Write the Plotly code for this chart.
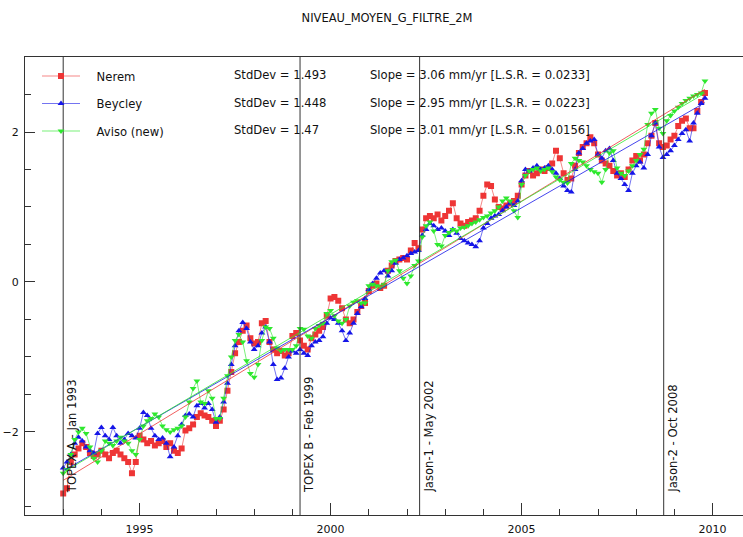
import numpy as np
import plotly.graph_objects as go

# ---------------- data ----------------
years = np.round(np.arange(1993.0, 2009.85, 0.1), 1)

nerem = [
    -2.82, -2.75, -2.40, -2.30, -2.22, -2.15, -2.20, -2.28, -2.32, -2.30,
    -2.25, -2.30, -2.35, -2.28, -2.25, -2.30, -2.35, -2.40, -2.55, -2.40,
    -2.05, -2.10, -2.15, -2.12, -2.18, -2.15, -2.12, -2.20, -2.15, -2.25,
    -2.28, -2.22, -1.98, -1.95, -1.90, -1.80, -1.75, -1.78, -1.80, -1.85,
    -1.92, -1.85, -1.70, -1.45, -1.20, -0.95, -0.80, -0.65, -0.58, -0.75,
    -0.82, -0.80, -0.55, -0.52, -0.80, -0.90, -0.95, -0.92, -0.98, -0.95,
    -0.72, -0.68, -0.78, -0.85, -0.90, -0.75, -0.70, -0.65, -0.60, -0.45,
    -0.22, -0.20, -0.25, -0.35, -0.50, -0.55, -0.50, -0.40, -0.32, -0.28,
    -0.12, -0.05, -0.02, -0.08, -0.05, 0.15, 0.22, 0.28, 0.30, 0.32,
    0.30, 0.42, 0.52, 0.45, 0.70, 0.85, 0.88, 0.85, 0.90, 0.82,
    0.88, 0.95, 1.05, 0.85, 0.78, 0.75, 0.80, 0.82, 0.85, 0.95,
    1.15, 1.30, 1.28, 1.10, 1.00, 0.98, 1.02, 1.05, 1.08, 1.15,
    1.30, 1.42, 1.48, 1.42, 1.45, 1.50, 1.48, 1.52, 1.58, 1.75,
    1.65, 1.45, 1.36, 1.38, 1.55, 1.72, 1.80, 1.85, 1.93, 1.85,
    1.70, 1.62, 1.58, 1.55, 1.48, 1.42, 1.45, 1.40, 1.50, 1.62,
    1.68, 1.62, 1.70, 1.85, 1.95, 2.12, 1.85, 1.80, 1.82, 1.90,
    1.95, 2.08, 2.15, 2.18, 2.05, 2.05, 2.28, 2.40, 2.52,
]

beycley = [
    -2.48, -2.40, -2.30, -2.15, -2.07, -2.12, -2.20, -2.25, -2.28, -2.02,
    -1.94, -2.05, -2.10, -1.94, -2.05, -2.15, -2.10, -2.02, -2.05, -2.08,
    -1.95, -1.74, -1.78, -1.95, -2.05, -2.10, -2.08, -2.15, -2.33, -2.20,
    -2.05, -1.90, -1.78, -1.76, -1.80, -1.65, -1.62, -1.68, -1.62, -1.70,
    -1.87, -1.80, -1.60, -1.35, -1.10, -0.85, -0.65, -0.54, -0.62, -0.80,
    -0.90, -0.85, -0.68, -0.60, -0.80, -1.10, -1.30, -1.28, -1.15, -1.00,
    -0.92, -0.95, -0.90, -0.95, -0.98, -0.85, -0.80, -0.78, -0.73, -0.55,
    -0.48, -0.50, -0.55, -0.65, -0.78, -0.68, -0.55, -0.42, -0.33, -0.22,
    -0.10, -0.02, 0.05, 0.12, 0.15, 0.08, 0.15, 0.25, 0.30, 0.32,
    0.35, 0.38, 0.40, 0.42, 0.62, 0.70, 0.78, 0.75, 0.70, 0.72,
    0.68, 0.62, 0.70, 0.65, 0.58, 0.55, 0.52, 0.50, 0.47, 0.55,
    0.72, 0.78, 0.85, 0.88, 0.90, 0.95, 1.00, 1.05, 1.02, 1.08,
    1.35, 1.50, 1.48, 1.52, 1.55, 1.50, 1.52, 1.55, 1.50, 1.45,
    1.38, 1.28, 1.22, 1.20, 1.50, 1.72, 1.78, 1.85, 1.88, 1.90,
    1.70, 1.65, 1.75, 1.78, 1.62, 1.45, 1.38, 1.30, 1.22, 1.45,
    1.55, 1.60, 1.52, 1.70, 1.95, 2.12, 1.80, 1.66, 1.70, 1.75,
    1.82, 1.90, 1.98, 2.03, 1.88, 2.12, 2.25, 2.38, 2.45,
]

aviso = [
    -2.55, -2.50, -2.30, -2.10, -2.00, -1.95, -2.02, -2.20, -2.35, -2.40,
    -2.25, -2.12, -2.15, -2.18, -2.12, -2.07, -2.12, -2.15, -2.25, -2.30,
    -2.10, -1.92, -1.85, -1.82, -1.76, -1.80, -1.92, -1.97, -2.00, -1.97,
    -1.95, -1.92, -1.80, -1.60, -1.42, -1.32, -1.60, -1.62, -1.45, -1.55,
    -1.82, -1.82, -1.55, -1.25, -1.00, -0.78, -0.70, -0.80, -1.05, -1.22,
    -1.27, -1.10, -0.78, -0.60, -0.62, -0.75, -0.88, -0.92, -0.90, -0.90,
    -0.90, -0.85, -0.62, -0.63, -0.72, -0.75, -0.62, -0.58, -0.55, -0.42,
    -0.38, -0.45, -0.52, -0.55, -0.50, -0.32, -0.27, -0.25, -0.28, -0.28,
    -0.05, -0.03, -0.05, -0.07, -0.04, 0.15, 0.27, 0.29, 0.15, 0.05,
    -0.02, 0.08, 0.22, 0.28, 0.60, 0.75, 0.80, 0.68, 0.50, 0.48,
    0.62, 0.66, 0.70, 0.68, 0.72, 0.73, 0.75, 0.78, 0.80, 0.83,
    0.86, 0.88, 0.92, 0.95, 1.00, 1.08, 1.12, 1.08, 0.95, 0.86,
    1.30, 1.42, 1.48, 1.50, 1.52, 1.48, 1.50, 1.52, 1.47, 1.40,
    1.36, 1.33, 1.32, 1.58, 1.65, 1.62, 1.60, 1.55, 1.50, 1.47,
    1.45, 1.33, 1.50, 1.72, 1.75, 1.52, 1.45, 1.42, 1.48, 1.55,
    1.62, 1.70, 1.77, 2.10, 2.25, 2.30, 2.05, 1.98, 2.15, 2.22,
    2.28, 2.33, 2.38, 2.42, 2.45, 2.48, 2.50, 2.52, 2.68,
]

series_names = ["Nerem", "Beycley", "Aviso (new)"]
series_values = [nerem, beycley, aviso]
std_devs = ["1.493", "1.448", "1.47"]
slopes = ["3.06", "2.95", "3.01"]
lsr_values = ["0.0233", "0.0223", "0.0156"]

mission_years = [1993.0, 1999.2, 2002.33, 2008.72]
mission_labels = ["TOPEX A - Jan 1993", "TOPEX B - Feb 1999",
                  "Jason-1 - May 2002", "Jason-2 - Oct 2008"]

x_ticks = [1995, 2000, 2005, 2010]
y_ticks = [-2, 0, 2]

# ---------------- style ----------------
colors = ["#ee3535", "#1515e8", "#2ee82e"]
line_colors = ["rgba(238,53,53,0.75)", "rgba(21,21,232,0.75)", "rgba(46,232,46,0.8)"]
symbols = ["square", "triangle-up", "triangle-down"]
FONT = "DejaVu Sans"
AX = "#333333"

W, H = 743, 537
ML, MR, MT, MB = 25, 0, 57, 22
PW, PH = W - ML - MR, H - MT - MB
PX_PER_YEAR = 38.2
X_RANGE = [1992.0, 1992.0 + PW / PX_PER_YEAR]
Y_RANGE = [-3.107, 3.0]

fig = go.Figure()

for i, (name, vals) in enumerate(zip(series_names, series_values)):
    fig.add_trace(go.Scatter(
        x=years, y=vals, mode="lines+markers", name="\u2003" + name,
        legendgroup=name,
        line=dict(color=line_colors[i], width=0.8),
        marker=dict(symbol=symbols[i], size=6, color=colors[i], line=dict(width=0)),
        hoverinfo="skip",
    ))

# least-squares trend lines computed from the data
for i, vals in enumerate(series_values):
    coef = np.polyfit(years, vals, 1)
    xs = np.array([years[0], years[-1]])
    fig.add_trace(go.Scatter(
        x=xs, y=np.polyval(coef, xs), mode="lines",
        line=dict(color=colors[i], width=0.8),
        showlegend=False, hoverinfo="skip",
    ))

shapes = []
annotations = []
for yr, lab in zip(mission_years, mission_labels):
    shapes.append(dict(type="line", xref="x", yref="paper", x0=yr, x1=yr, y0=0, y1=1,
                       line=dict(color=AX, width=1)))
    annotations.append(dict(x=yr, y=-2.84, xref="x", yref="y", text=lab, textangle=-90,
                            showarrow=False, xanchor="center", yanchor="bottom", xshift=9,
                            font=dict(family=FONT, size=11.6, color="#111")))

row_px = [75, 103, 130]
for i in range(3):
    yp = (H - MB - row_px[i]) / PH
    annotations.append(dict(x=(232 - ML) / PW, y=yp, xref="paper", yref="paper",
                            text=f"StdDev = {std_devs[i]}", showarrow=False,
                            xanchor="left", yanchor="middle",
                            font=dict(family=FONT, size=11.6, color="#111")))
    annotations.append(dict(x=(368 - ML) / PW, y=yp, xref="paper", yref="paper",
                            text=f"Slope = {slopes[i]} mm/yr [L.S.R. = {lsr_values[i]}]",
                            showarrow=False, xanchor="left", yanchor="middle",
                            font=dict(family=FONT, size=11.6, color="#111")))

fig.update_layout(
    width=W, height=H,
    margin=dict(l=ML, r=MR, t=MT, b=MB, pad=0),
    paper_bgcolor="white", plot_bgcolor="white",
    font=dict(family=FONT, size=11, color="#111"),
    title=dict(text="NIVEAU_MOYEN_G_FILTRE_2M", x=(387 - ML) / PW, xref="paper",
               xanchor="center", y=1 - 18 / H, yref="container", yanchor="middle",
               font=dict(family=FONT, size=11.5, color="#111")),
    showlegend=True,
    legend=dict(x=(37 - ML) / PW, y=(H - MB - 61.5) / PH, xref="paper", yref="paper",
                xanchor="left", yanchor="top", bgcolor="rgba(0,0,0,0)",
                font=dict(family=FONT, size=11.6, color="#111"),
                itemwidth=38, tracegroupgap=8.5, traceorder="grouped"),
    shapes=shapes, annotations=annotations,
    xaxis=dict(range=X_RANGE, showgrid=False, zeroline=False,
               showline=True, linecolor=AX, linewidth=1, mirror=True,
               ticks="inside", ticklen=12, tickcolor=AX, tickwidth=1,
               tickvals=x_ticks, ticklabelstandoff=4,
               tickfont=dict(size=11, family=FONT, color="#111"),
               minor=dict(ticks="inside", ticklen=6, dtick=1, tick0=1992, tickcolor=AX, showgrid=False)),
    yaxis=dict(range=Y_RANGE, showgrid=False, zeroline=False,
               showline=True, linecolor=AX, linewidth=1, mirror=False,
               ticks="inside", ticklen=10, tickcolor=AX, tickwidth=1,
               tickvals=y_ticks, ticklabelstandoff=3,
               tickfont=dict(size=11, family=FONT, color="#111"),
               minor=dict(ticks="inside", ticklen=6, dtick=0.5, tick0=0, tickcolor=AX, showgrid=False)),
    yaxis2=dict(range=Y_RANGE, overlaying="y", side="right", showgrid=False, zeroline=False,
                showline=False, ticks="inside", ticklen=3, tickcolor=AX, tickvals=y_ticks,
                showticklabels=False),
)

fig.write_html("out.html", config={"displayModeBar": False},
               post_script="document.body.style.margin='0';")
